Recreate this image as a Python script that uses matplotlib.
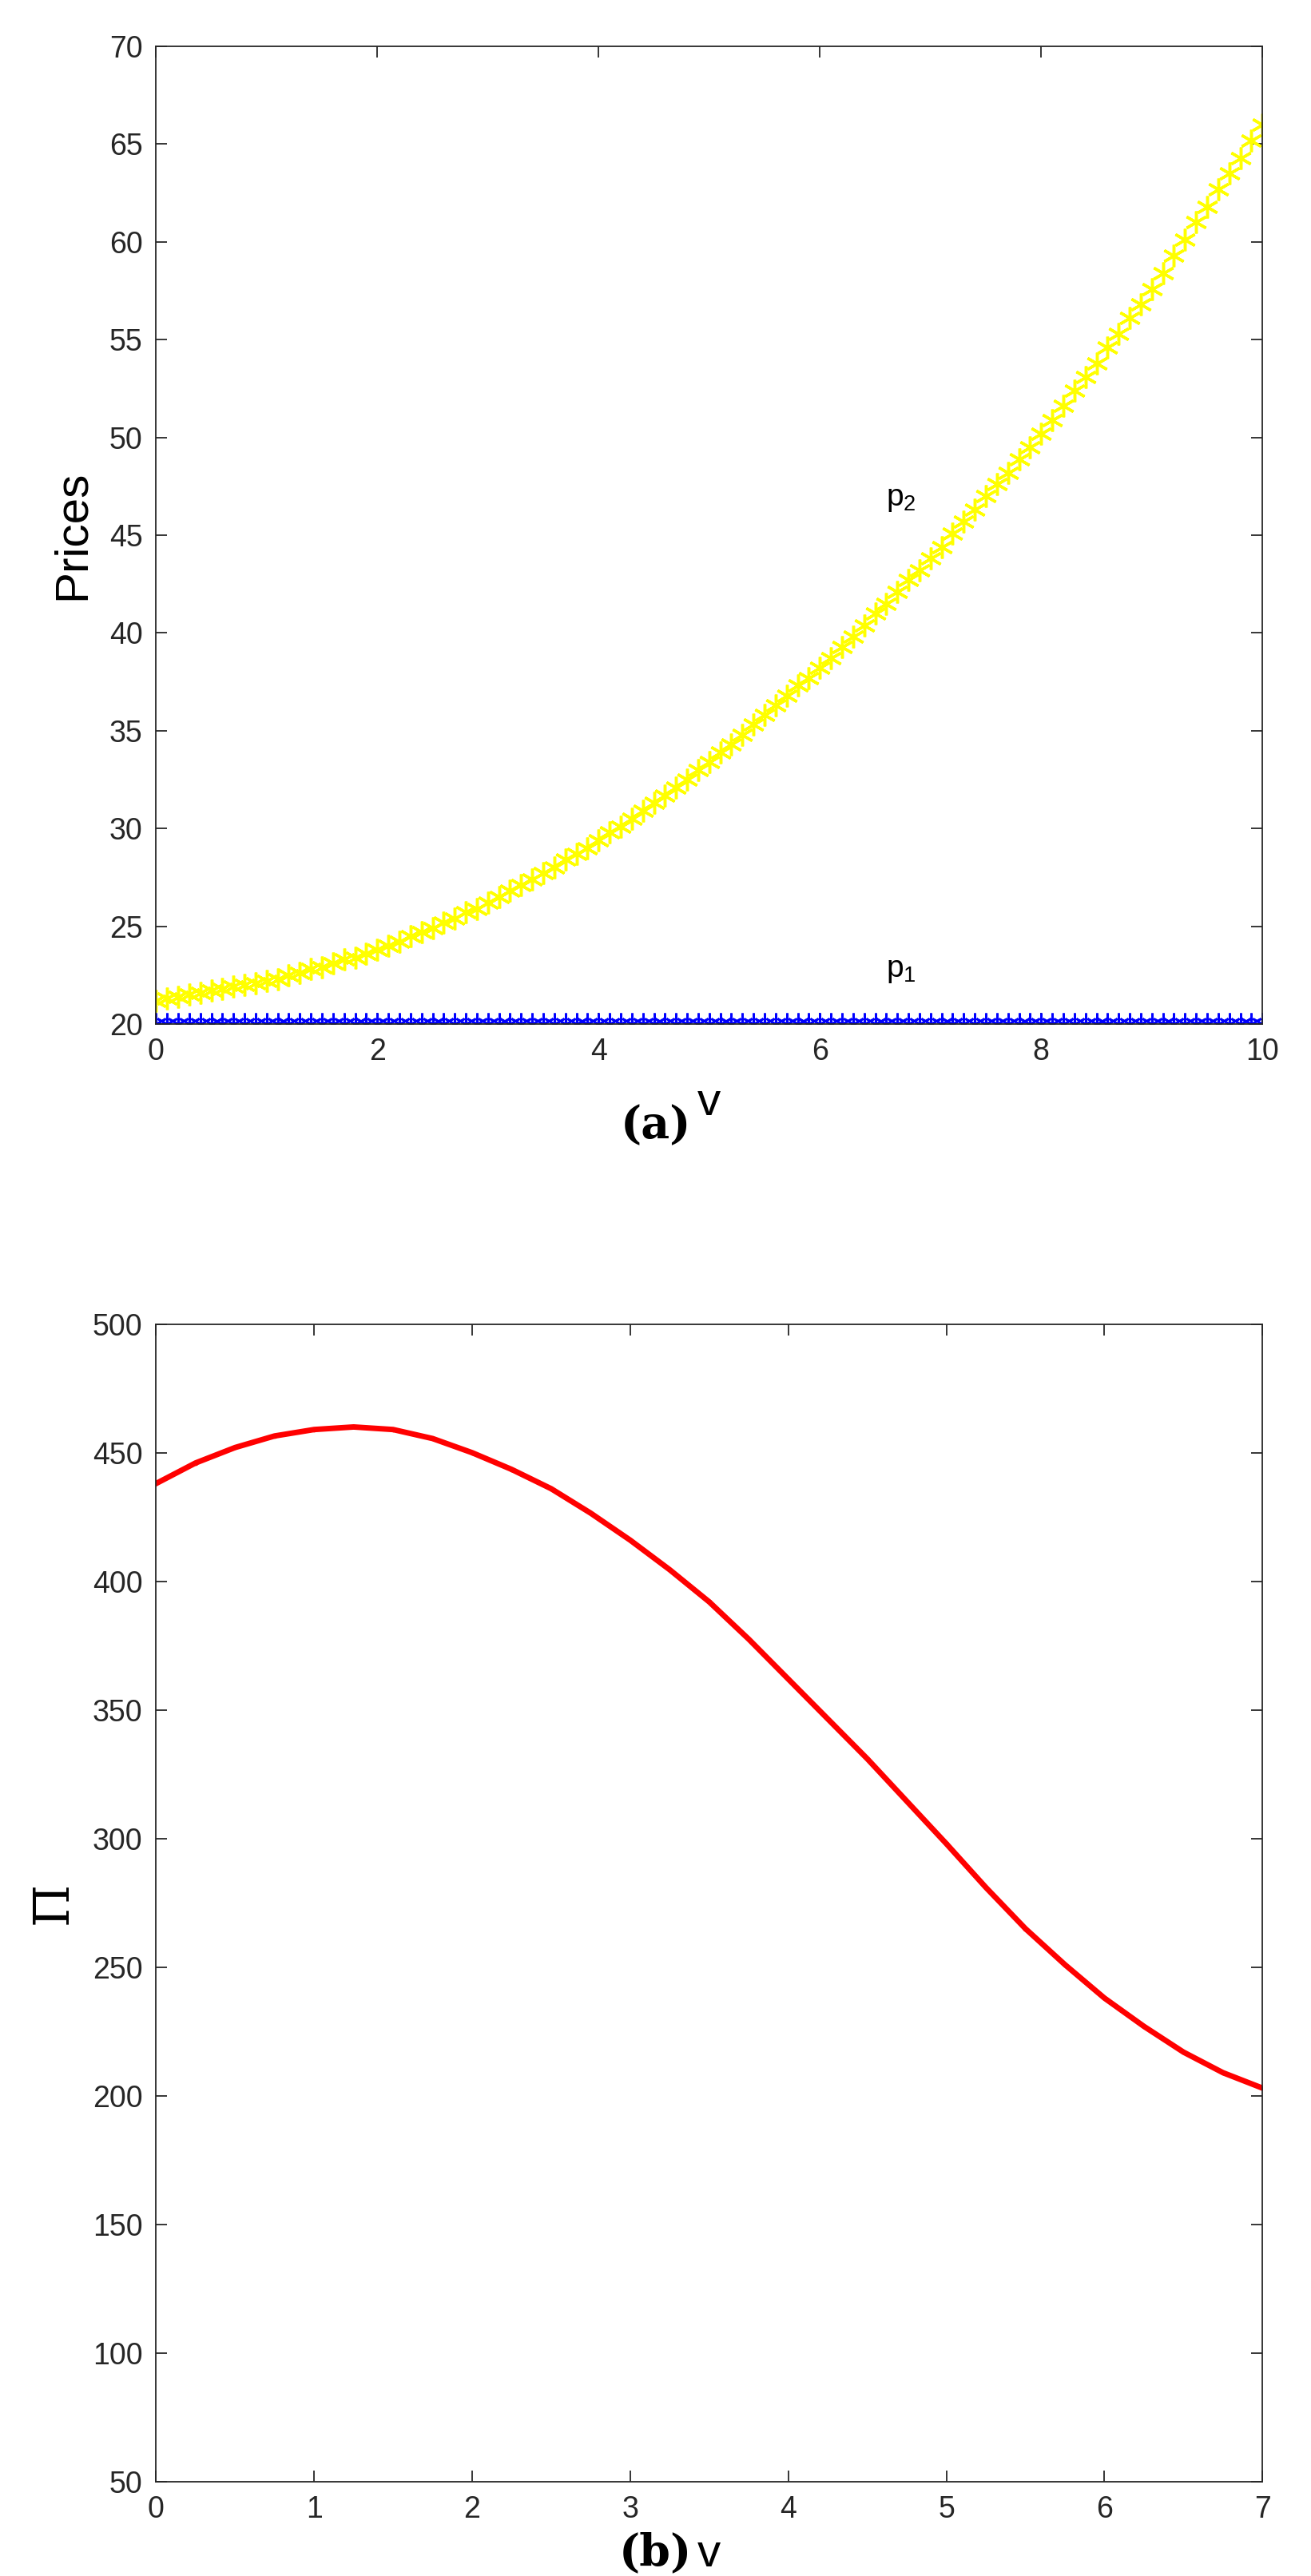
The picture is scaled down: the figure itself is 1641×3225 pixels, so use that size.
import numpy as np
import matplotlib
matplotlib.use("Agg")
import matplotlib.pyplot as plt

plt.rcParams['font.family'] = ['Liberation Sans', 'DejaVu Sans']
plt.rcParams['mathtext.fontset'] = 'custom'
plt.rcParams['mathtext.rm'] = 'Liberation Sans'
plt.rcParams['mathtext.it'] = 'Liberation Sans'

# panel (a): prices vs v
v_a = np.arange(101) * 0.1
p1 = [20.0] * 101
p2 = [21.2, 21.3, 21.4, 21.5, 21.6, 21.7, 21.8, 21.9, 22.0, 22.1,
      22.2, 22.3, 22.5, 22.6, 22.8, 22.9, 23.1, 23.3, 23.4, 23.6,
      23.8, 24.0, 24.2, 24.5, 24.7, 24.9, 25.2, 25.4, 25.7, 25.9,
      26.2, 26.5, 26.8, 27.1, 27.4, 27.7, 28.0, 28.4, 28.7, 29.0,
      29.4, 29.8, 30.1, 30.5, 30.9, 31.3, 31.7, 32.1, 32.5, 33.0,
      33.4, 33.9, 34.3, 34.8, 35.3, 35.8, 36.3, 36.8, 37.3, 37.7,
      38.2, 38.7, 39.3, 39.8, 40.4, 41.0, 41.5, 42.1, 42.7, 43.2,
      43.8, 44.4, 45.1, 45.7, 46.3, 47.0, 47.6, 48.2, 48.9, 49.5,
      50.2, 50.9, 51.6, 52.4, 53.1, 53.8, 54.6, 55.3, 56.1, 56.8,
      57.6, 58.4, 59.3, 60.1, 61.0, 61.8, 62.7, 63.5, 64.3, 65.2, 66.0]

# panel (b): profit vs v
v_b = [0, 0.25, 0.5, 0.75, 1.0, 1.25, 1.5, 1.75, 2.0, 2.25, 2.5, 2.75,
       3.0, 3.25, 3.5, 3.75, 4.0, 4.25, 4.5, 4.75, 5.0, 5.25, 5.5, 5.75,
       6.0, 6.25, 6.5, 6.75, 7.0]
profit = [438, 446, 452, 456.5, 459, 460, 459, 455.5, 450, 443.5, 436, 426.5,
          416, 404.5, 392, 377.5, 362, 346.5, 331, 314.5, 298, 281, 265, 251,
          238, 227, 217, 209, 203]

fig = plt.figure(figsize=(16.41, 32.25), dpi=100)

def style(ax):
    ax.tick_params(direction='in', labelsize=27, length=10, width=1.3,
                   top=True, right=True, labeltop=False, labelright=False,
                   colors='#262626', pad=12)
    for s in ax.spines.values():
        s.set_linewidth(1.3)
        s.set_color('#262626')

ax1 = fig.add_axes([0.119, 0.6025, 0.844, 0.3795])
ax1.plot(v_a, p2, linestyle='none', marker=(6, 2, 0), color='#ffff00', ms=20, mew=2.5)
ax1.plot(v_a, p1, linestyle='none', marker=(6, 2, 0), color='#0000ff', ms=20, mew=2)
ax1.set_xlim(0, 10)
ax1.set_ylim(20, 70)
ax1.set_xticks(range(0, 11, 2))
ax1.set_yticks(range(20, 71, 5))
ax1.text(6.6, 46.5, r'p$_2$', fontsize=28)
ax1.text(6.6, 22.4, r'p$_1$', fontsize=28)
ax1.set_xlabel('v', fontsize=42, labelpad=14)
ax1.set_ylabel('Prices', fontsize=42, labelpad=14)
style(ax1)
fig.text(0.5, 0.558, '(a)', ha='center', fontsize=40, weight='bold',
         family='DejaVu Serif')

ax2 = fig.add_axes([0.119, 0.0366, 0.844, 0.4494])
ax2.plot(v_b, profit, color='#ff0000', lw=5, marker='.', ms=6)
ax2.set_xlim(0, 7)
ax2.set_ylim(50, 500)
ax2.set_xticks(range(0, 8))
ax2.set_yticks(range(50, 501, 50))
ax2.set_xlabel('v', fontsize=42, labelpad=8)
ax2.set_ylabel('Π', fontsize=44, labelpad=14, family='DejaVu Serif')
style(ax2)
fig.text(0.5, 0.004, '(b)', ha='center', fontsize=40, weight='bold',
         family='DejaVu Serif')

fig.savefig('out.png', dpi=100, facecolor='white')
